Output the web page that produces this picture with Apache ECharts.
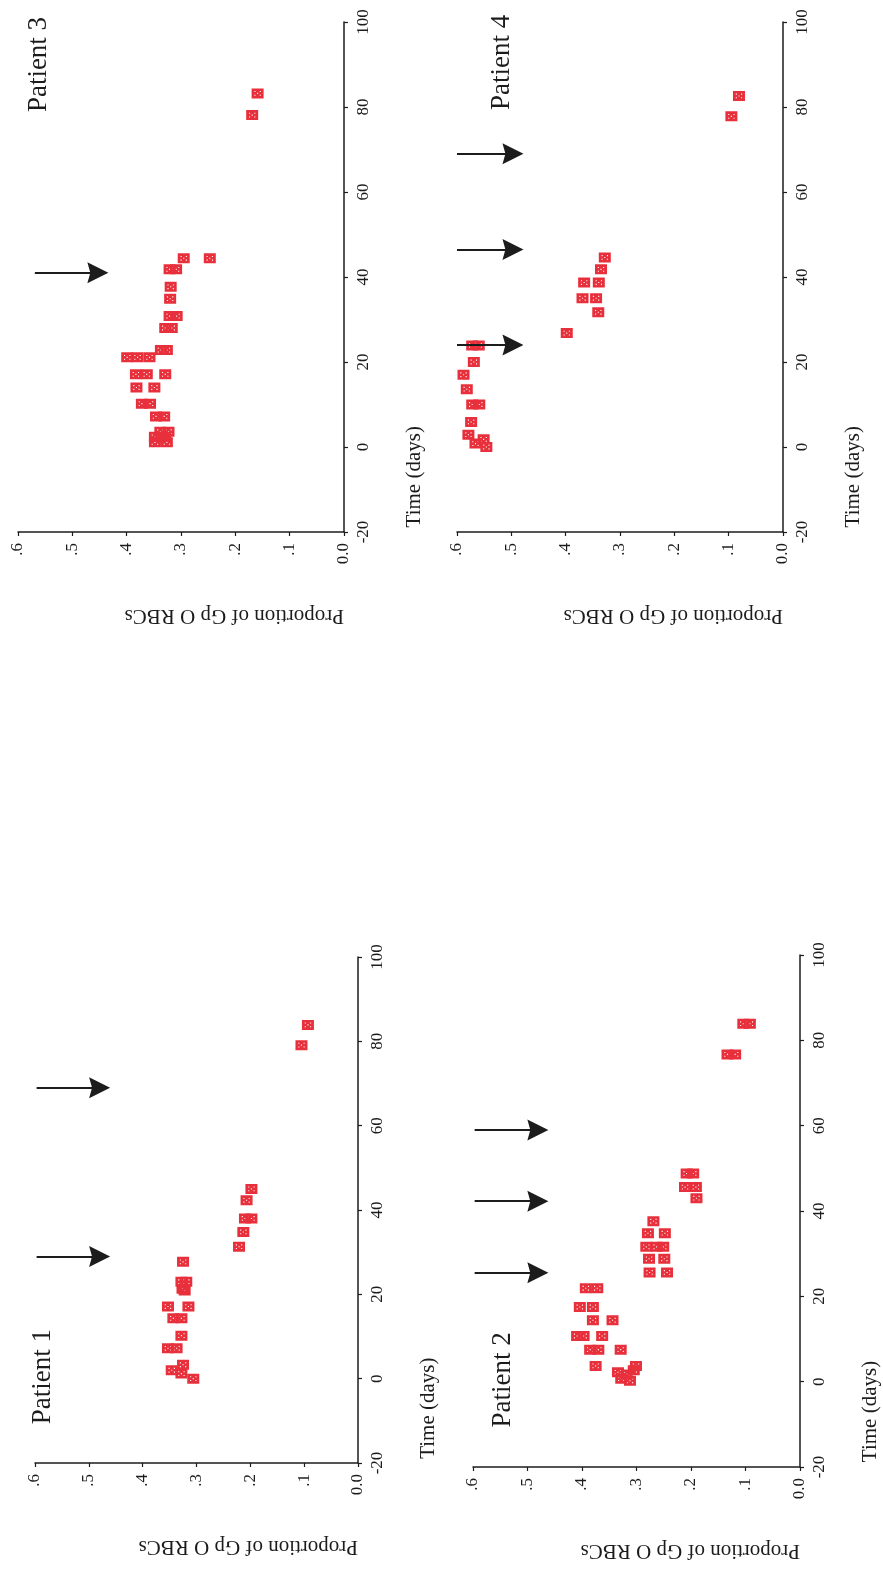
<!DOCTYPE html>
<html><head><meta charset="utf-8">
<script src="https://cdn.jsdelivr.net/npm/echarts@6/dist/echarts.min.js"></script>
<style>html,body{margin:0;padding:0;background:#fff}#c{width:883px;height:1573px}</style>
</head><body><div id="c"></div><script>
// ---- data ----
const timeTicks = [-20, 0, 20, 40, 60, 80, 100];
const propTicks = [0, 0.1, 0.2, 0.3, 0.4, 0.5, 0.6];
const panelNames = ['Patient 1', 'Patient 2', 'Patient 3', 'Patient 4'];

const time1 = [0, 1.2, 2.0, 3.3, 7.2, 7.2, 10.2, 14.3, 14.3, 17.1, 17.1, 20.9, 21.3, 23.0, 23.0, 27.7, 31.3, 34.8, 38.0, 38.0, 42.3, 45.0, 79.1, 83.9];
const prop1 = [.306, .328, .346, .325, .353, .337, .328, .343, .328, .353, .315, .322, .326, .319, .328, .325, .221, .213, .210, .198, .207, .198, .105, .093];
const arrows1 = [29, 69];

const time2 = [0.2, 0.7, 1.7, 2.2, 2.7, 3.7, 3.7, 7.5, 7.5, 7.5, 10.7, 10.7, 10.7, 14.4, 14.4, 17.5, 17.5, 21.9, 21.9, 25.6, 25.6, 28.8, 28.8, 31.6, 31.6, 31.6, 34.8, 34.8, 37.6, 43.0, 45.6, 45.6, 48.8, 48.8, 76.7, 76.7, 83.9, 83.9];
const prop2 = [.312, .328, .318, .334, .305, .301, .375, .329, .385, .370, .409, .397, .363, .380, .344, .404, .380, .393, .372, .276, .244, .277, .249, .282, .263, .251, .279, .248, .269, .190, .211, .191, .208, .196, .133, .119, .104, .092];
const arrows2 = [25.5, 42.3, 59];

const time3 = [1.1, 1.1, 2.4, 2.4, 3.6, 3.6, 7.2, 7.2, 10.2, 10.2, 14, 14, 17.1, 17.1, 17.1, 21.1, 21.1, 21.1, 22.8, 22.8, 28, 28, 30.8, 30.8, 34.9, 37.7, 41.8, 41.8, 44.4, 44.4, 78.1, 83.2];
const prop3 = [.348, .326, .348, .329, .338, .323, .346, .331, .372, .357, .349, .382, .383, .363, .329, .399, .380, .358, .337, .326, .329, .317, .321, .308, .320, .319, .321, .309, .295, .247, .169, .159];
const arrows3 = [41];

const time4 = [0, 0.8, 1.8, 2.9, 5.9, 10, 10, 13.6, 17, 20, 23.9, 23.9, 26.8, 31.7, 35, 35, 38.7, 38.7, 41.8, 44.6, 77.8, 82.6];
const prop4 = [.546, .566, .551, .579, .574, .572, .559, .582, .588, .569, .572, .560, .398, .340, .369, .344, .366, .339, .335, .328, .095, .081];
const arrows4 = [24, 46.5, 69];

// arrow extents (proportion; the end is the centre of the arrow head) and label anchors [prop, time]
const arrowTail = [0.597, 0.597, 0.569, 0.6];
const arrowEnd = [0.48, 0.481, 0.453, 0.497];
const labelAnchor = [[0.585, 0.5], [0.545, 0.4], [0.562, 90], [0.517, 90.5]];

const times = [time1, time2, time3, time4];
const props = [prop1, prop2, prop3, prop4];
const arrows = [arrows1, arrows2, arrows3, arrows4];

// ---- layout ----
const grids = [
  {left: 35, right: 525, top: 957, bottom: 110},
  {left: 473, right: 83, top: 955, bottom: 106},
  {left: 18, right: 539, top: 22, bottom: 1041},
  {left: 457, right: 100, top: 22, bottom: 1041}
];
const FONT = '"Liberation Serif", "Times New Roman", serif';
const INK = '#1c1c1c';
const RED = '#e8303c';
const markerPath = 'path://M0,0H12V10H0Z M2.8,2.6V3.7H3.9V2.6Z M8.1,2.6V3.7H9.2V2.6Z M5.45,4.45V5.55H6.55V4.45Z M2.8,6.3V7.4H3.9V6.3Z M8.1,6.3V7.4H9.2V6.3Z';
const arrowHead = 'path://M5,0L10,10L5,8.6L0,10Z';

const xAxes = grids.map((g, i) => ({
  gridIndex: i, type: 'value', min: propTicks[0], max: propTicks[propTicks.length - 1], interval: 0.1,
  inverse: true, position: 'bottom',
  axisLine: {onZero: false, lineStyle: {color: INK, width: 1.5}},
  axisTick: {length: 4, lineStyle: {color: INK, width: 1.2}},
  axisLabel: {rotate: 90, margin: 11, fontSize: 17, fontFamily: FONT, color: INK,
    formatter: v => (Math.abs(v) < 1e-9 ? '0.0' : '.' + Math.round(v * 10))},
  splitLine: {show: false}
}));
const yAxes = grids.map((g, i) => ({
  gridIndex: i, type: 'value', min: timeTicks[0], max: timeTicks[timeTicks.length - 1], interval: 20,
  position: 'right',
  axisLine: {onZero: false, lineStyle: {color: INK, width: 1.5}},
  axisTick: {length: 4, lineStyle: {color: INK, width: 1.2}},
  axisLabel: {rotate: 90, margin: 11, fontSize: 17, fontFamily: FONT, color: INK},
  splitLine: {show: false}
}));

const series = times.map((tArr, i) => ({
  type: 'scatter', xAxisIndex: i, yAxisIndex: i, clip: false,
  symbol: markerPath, symbolSize: [12, 10],
  itemStyle: {color: RED, opacity: 1},
  data: tArr.map((t, k) => [props[i][k], t]),
  markLine: {
    silent: true, symbol: ['none', arrowHead], symbolSize: 21,
    lineStyle: {color: INK, width: 2, type: 'solid'},
    itemStyle: {color: INK},
    label: {show: false},
    emphasis: {disabled: true},
    data: arrows[i].map(t => [{coord: [arrowTail[i], t]}, {coord: [arrowEnd[i], t]}])
  }
}));

const chart = echarts.init(document.getElementById('c'), null, {renderer: 'canvas'});
chart.setOption({
  animation: false, backgroundColor: '#ffffff',
  grid: grids, xAxis: xAxes, yAxis: yAxes, series: series
});

const gfx = [];
grids.forEach((g, i) => {
  const px = (p, t) => chart.convertToPixel({gridIndex: i}, [p, t]);
  const la = px(labelAnchor[i][0], labelAnchor[i][1]);
  gfx.push({type: 'text', x: la[0], y: la[1], rotation: Math.PI / 2, silent: true,
    style: {text: panelNames[i], font: '27px ' + FONT, fill: INK, align: 'center', verticalAlign: 'middle'}});
  const tn = px(0, -7);
  gfx.push({type: 'text', x: tn[0] + 70, y: tn[1], rotation: Math.PI / 2, silent: true,
    style: {text: 'Time (days)', font: '21px ' + FONT, fill: INK, align: 'center', verticalAlign: 'middle'}});
  const pn = px(0, -20);
  gfx.push({type: 'text', x: pn[0], y: pn[1] + 84, rotation: Math.PI, silent: true,
    style: {text: 'Proportion of Gp O RBCs', font: '21px ' + FONT, fill: INK, align: 'left', verticalAlign: 'middle'}});
});
chart.setOption({graphic: gfx});
</script></body></html>
